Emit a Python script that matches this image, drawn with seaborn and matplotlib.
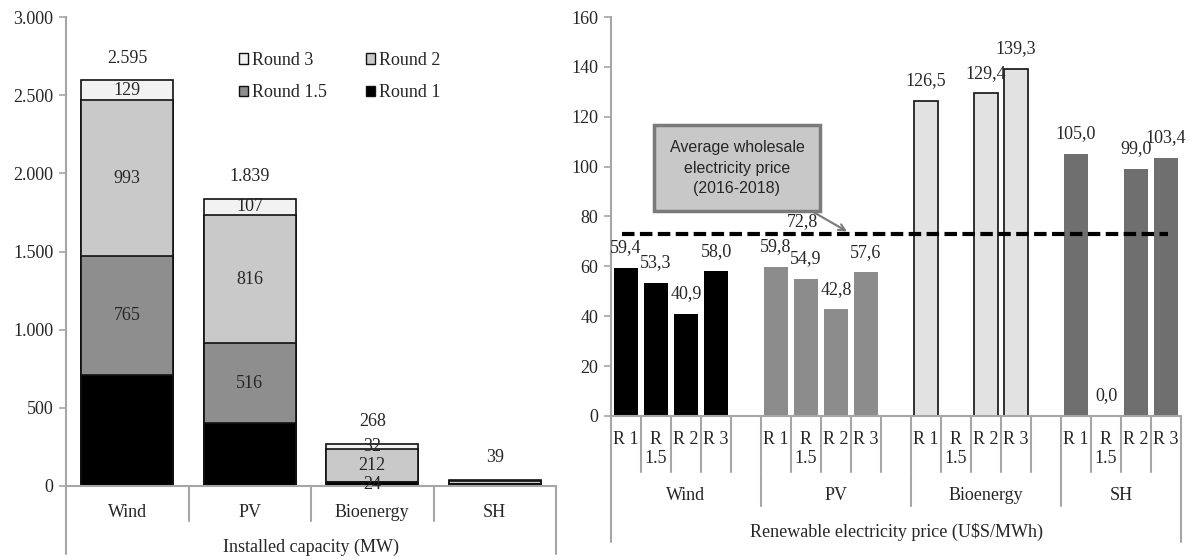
import matplotlib.pyplot as plt
import seaborn as sns
from matplotlib.patches import Patch

# Installed capacity (MW) per technology and auction round
techs = ['Wind', 'PV', 'Bioenergy', 'SH']
cap_round1 = [708, 400, 24, 11]
cap_round15 = [765, 516, 0, 0]
cap_round2 = [993, 816, 212, 21]
cap_round3 = [129, 107, 32, 7]
round_names = ['Round 1', 'Round 1.5', 'Round 2', 'Round 3']

# Renewable electricity price (U$S/MWh)
rounds = ['R 1', 'R\n1.5', 'R 2', 'R 3']
price_wind = [59.4, 53.3, 40.9, 58.0]
price_pv = [59.8, 54.9, 42.8, 57.6]
price_bio = [126.5, None, 129.4, 139.3]
price_sh = [105.0, 0.0, 99.0, 103.4]
avg_price = 72.8

sns.set_theme(style='white')
plt.rcParams['font.family'] = ['Liberation Serif', 'DejaVu Serif']
plt.rcParams['font.size'] = 13

grey_line = '#a6a6a6'

fig = plt.figure(figsize=(11.92, 5.6), dpi=100)
ax1 = fig.add_axes([66 / 1192, 74 / 560, 490 / 1192, 469 / 560])
ax2 = fig.add_axes([611 / 1192, 144 / 560, 570 / 1192, 399 / 560])

# ---- links: gestapelte Balken (kumulativ von hinten nach vorne)
cap_colors = ['#000000', '#8e8e8e', '#c9c9c9', '#f2f2f2']
layers = [cap_round1, cap_round15, cap_round2, cap_round3]
cum = []
run = [0] * len(techs)
for layer in layers:
    run = [a + b for a, b in zip(run, layer)]
    cum.append(run)

for vals, col in reversed(list(zip(cum, cap_colors))):
    sns.barplot(x=techs, y=vals, order=techs, color=col, saturation=1,
                width=0.75, edgecolor='#111111', linewidth=1.2,
                errorbar=None, ax=ax1)

seg_labels = {'Wind': [1, 2, 3], 'PV': [1, 2, 3], 'Bioenergy': [0, 2, 3], 'SH': []}
for i, t in enumerate(techs):
    bottom = 0
    for k, layer in enumerate(layers):
        v = layer[i]
        if k in seg_labels[t]:
            ax1.text(i, bottom + v / 2, f"{v}", ha='center', va='center', fontsize=13)
        bottom += v
    total = cum[-1][i]
    ax1.annotate(f"{total:,}".replace(',', '.'), (i, total), xytext=(0, 16),
                 textcoords='offset points', ha='center', va='center', fontsize=13)

ax1.set_ylim(0, 3000)
ax1.set_xlim(-0.5, len(techs) - 0.5)
yt = list(range(0, 3001, 500))
ax1.set_yticks(yt)
ax1.set_yticklabels([f"{v:,}".replace(',', '.') for v in yt], fontsize=13)
ax1.set_xticks([])
ax1.set_xlabel('')
ax1.set_ylabel('')

handles = [Patch(facecolor=cap_colors[k], edgecolor='#111111', linewidth=1.0, label=round_names[k])
           for k in [3, 1, 2, 0]]
ax1.legend(handles=handles, ncol=2, loc='upper left', bbox_to_anchor=(0.335, 0.945),
           frameon=False, fontsize=13, handlelength=0.5, handleheight=0.5,
           handletextpad=0.2, columnspacing=2.2, labelspacing=0.85, borderpad=0)

lk = dict(color=grey_line, lw=1.5, clip_on=False, transform=ax1.get_xaxis_transform())
for b in range(1, len(techs)):
    ax1.plot([b - 0.5, b - 0.5], [0, -0.0745], **lk)
for b in [-0.5, len(techs) - 0.5]:
    ax1.plot([b, b], [0, -0.145], **lk)
for i, t in enumerate(techs):
    ax1.text(i, -0.056, t, ha='center', va='center', fontsize=13,
             transform=ax1.get_xaxis_transform())
ax1.text((len(techs) - 1) / 2, -0.13, 'Installed capacity (MW)', ha='center', va='center',
         fontsize=13, transform=ax1.get_xaxis_transform())

# ---- rechts: Preise nach Runde
price_sets = [
    ('Wind', price_wind, '#000000', 0),
    ('PV', price_pv, '#8c8c8c', 0),
    ('Bioenergy', price_bio, '#e2e2e2', 1.2),
    ('SH', price_sh, '#6f6f6f', 0),
]
slots = []
group_bounds = [-0.5]
for j, t in enumerate(techs):
    slots += [f"{t} {r}" for r in rounds]
    if j < len(techs) - 1:
        slots.append(f"{t} gap")
    group_bounds.append(len(slots) - 0.5)

for t, vals, col, lw in price_sets:
    xs = [f"{t} {r}" for r, v in zip(rounds, vals) if v is not None]
    ys = [v for v in vals if v is not None]
    sns.barplot(x=xs, y=ys, order=slots, color=col, saturation=1, width=0.77,
                edgecolor='#111111', linewidth=lw, errorbar=None, ax=ax2)
    for name, v in zip(xs, ys):
        ax2.annotate(f"{v:.1f}".replace('.', ','), (slots.index(name), v), xytext=(0, 14.5),
                     textcoords='offset points', ha='center', va='center', fontsize=13)

ax2.set_ylim(0, 160)
ax2.set_xlim(-0.5, len(slots) - 0.5)
ax2.set_yticks(range(0, 161, 20))
ax2.set_yticklabels([str(v) for v in range(0, 161, 20)], fontsize=13)
ax2.set_xticks([])
ax2.set_xlabel('')
ax2.set_ylabel('')

ax2.hlines(avg_price, -0.13, 18.07, colors='black', lw=3, linestyles=(0, (3, 1.3)))
ax2.text(5.87, avg_price + 1.8, f"{avg_price:.1f}".replace('.', ','), ha='center', va='bottom', fontsize=13)
ax2.annotate('Average wholesale\nelectricity price\n(2016-2018)', xy=(7.37, avg_price + 1.2),
             xytext=(3.7, 99.4), ha='center', va='center', fontsize=11.5,
             family=['Liberation Sans', 'DejaVu Sans'], linespacing=1.45,
             bbox=dict(boxstyle='square,pad=0.95', fc='#c8c8c8', ec='#7a7a7a', lw=2.5),
             arrowprops=dict(arrowstyle='->', color='#7a7a7a', lw=1.5, shrinkA=0, shrinkB=0))

lk2 = dict(color=grey_line, lw=1.5, clip_on=False, transform=ax2.get_xaxis_transform())
for k in range(1, len(slots)):
    ax2.plot([k - 0.5, k - 0.5], [0, -0.140], **lk2)
for b in group_bounds[1:-1]:
    ax2.plot([b, b], [-0.143, -0.2256], **lk2)
for b in [group_bounds[0], group_bounds[-1]]:
    ax2.plot([b, b], [0, -0.316], **lk2)
for k, name in enumerate(slots):
    if name.endswith('gap'):
        continue
    ax2.text(k, -0.037, name.split(' ', 1)[1], ha='center', va='top', fontsize=13,
             linespacing=1.2, transform=ax2.get_xaxis_transform())
for j, t in enumerate(techs):
    ax2.text((group_bounds[j] + group_bounds[j + 1]) / 2, -0.2005, t, ha='center', va='center',
             fontsize=13, transform=ax2.get_xaxis_transform())
ax2.text((len(slots) - 1) / 2, -0.29, r'Renewable electricity price (U\$S/MWh)', ha='center',
         va='center', fontsize=13, transform=ax2.get_xaxis_transform())

for ax in [ax1, ax2]:
    sns.despine(ax=ax)
    for s in ['left', 'bottom']:
        ax.spines[s].set_color(grey_line)
        ax.spines[s].set_linewidth(1.5)
    ax.tick_params(axis='y', left=True, length=5, width=1.2, color=grey_line, pad=4)
    ax.tick_params(axis='x', bottom=False)
    ax.grid(False)

fig.savefig('out.png', dpi=100)
